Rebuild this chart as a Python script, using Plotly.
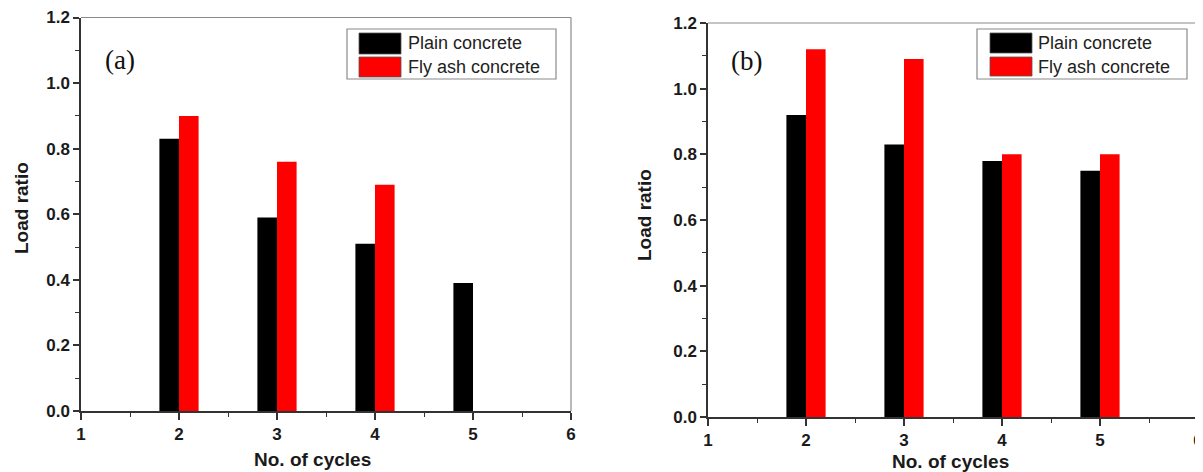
import plotly.graph_objects as go

# ---- data ----
cycles = [2, 3, 4, 5]
plain_a = [0.83, 0.59, 0.51, 0.39]
flyash_a_cycles = [2, 3, 4]
flyash_a = [0.90, 0.76, 0.69]

plain_b = [0.92, 0.83, 0.78, 0.75]
flyash_b = [1.12, 1.09, 0.80, 0.80]

series_names = ["Plain concrete", "Fly ash concrete"]
series_colors = ["#000000", "#ff0000"]
panel_labels = ["(a)", "(b)"]
x_ticks = [1, 2, 3, 4, 5, 6]
y_ticks = [0.0, 0.2, 0.4, 0.6, 0.8, 1.0, 1.2]

# page body has an 8px margin; lay the figure out in window pixels minus that offset
OFF = 8
W, H = 1203 - OFF, 472 - OFF
BAR_W = 0.2

fig = go.Figure()

# panel a
fig.add_trace(go.Bar(x=cycles, y=plain_a, width=BAR_W, offset=-BAR_W,
                     marker=dict(color=series_colors[0], line=dict(width=0)),
                     name=series_names[0], showlegend=False, xaxis="x", yaxis="y"))
fig.add_trace(go.Bar(x=flyash_a_cycles, y=flyash_a, width=BAR_W, offset=0,
                     marker=dict(color=series_colors[1], line=dict(width=0)),
                     name=series_names[1], showlegend=False, xaxis="x", yaxis="y"))
# panel b
fig.add_trace(go.Bar(x=cycles, y=plain_b, width=BAR_W, offset=-BAR_W,
                     marker=dict(color=series_colors[0], line=dict(width=0)),
                     name=series_names[0], showlegend=False, xaxis="x2", yaxis="y2"))
fig.add_trace(go.Bar(x=cycles, y=flyash_b, width=BAR_W, offset=0,
                     marker=dict(color=series_colors[1], line=dict(width=0)),
                     name=series_names[1], showlegend=False, xaxis="x2", yaxis="y2"))

tickfont = dict(family="Arial, 'Liberation Sans', sans-serif", size=17, color="#1a1a1a", weight="bold")
axcol = "#333333"

def xaxis(domain, anchor):
    return dict(domain=domain, anchor=anchor, range=[1, 6], tickvals=x_ticks,
                ticktext=[str(t) for t in x_ticks], automargin=False,
                showline=True, linecolor=axcol, linewidth=1.5, mirror=False,
                ticks="outside", ticklen=7, tickwidth=1.5, tickcolor=axcol,
                minor=dict(ticks="outside", ticklen=4, tickwidth=1.2, tickcolor=axcol, dtick=0.5, tick0=1),
                showgrid=False, zeroline=False, tickfont=tickfont, fixedrange=True)

def yaxis(domain, anchor):
    return dict(domain=domain, anchor=anchor, range=[0, 1.2], tickvals=y_ticks,
                ticktext=[f"{t:.1f}" for t in y_ticks], automargin=False,
                showline=True, linecolor=axcol, linewidth=1.5, mirror=False,
                ticks="outside", ticklen=6, tickwidth=1.5, tickcolor=axcol,
                minor=dict(ticks="outside", ticklen=4, tickwidth=1.2, tickcolor=axcol, dtick=0.1, tick0=0),
                showgrid=False, zeroline=False, tickfont=tickfont, fixedrange=True)

# geometry in window pixels (as measured on the reference)
axL = dict(x0=81, x1=571, ytop=17.5, ybot=411)
axR = dict(x0=708, x1=1198, ytop=23, ybot=417)

def px(x):
    return (x - OFF) / W

def py(y):
    return 1 - (y - OFF) / H

def xd(a):
    return [px(a["x0"]), px(a["x1"])]

def yd(a):
    return [py(a["ybot"]), py(a["ytop"])]

fig.update_layout(
    width=W, height=H,
    margin=dict(l=0, r=0, t=0, b=0, autoexpand=False),
    paper_bgcolor="white", plot_bgcolor="white",
    barmode="overlay",
    xaxis=xaxis(xd(axL), "y"),
    yaxis=yaxis(yd(axL), "x"),
    xaxis2=xaxis(xd(axR), "y2"),
    yaxis2=yaxis(yd(axR), "x2"),
    showlegend=False,
)

shapes = []
annotations = []

title_font = dict(family="Arial, 'Liberation Sans', sans-serif", size=19, color="#1a1a1a", weight="bold")
legend_font = dict(family="Arial, 'Liberation Sans', sans-serif", size=18, color="#222")
label_font = dict(family="'Times New Roman', 'Liberation Serif', serif", size=27, color="#111")

panels = [
    dict(ax=axL, label_xy=(120, 60), ytitle_xy=(21, 208), xtitle_xy=(312, 459),
         legend=dict(box=(347, 29, 556, 79), sw=(359, 401), rows=[(33, 54), (57, 77)], tx=406)),
    dict(ax=axR, label_xy=(746, 61), ytitle_xy=(645, 215), xtitle_xy=(950, 461),
         legend=dict(box=(977, 29, 1187, 79), sw=(990, 1032), rows=[(33, 53), (57, 76)], tx=1036)),
]

for i, p in enumerate(panels):
    a = p["ax"]
    # top and right frame lines (lighter gray)
    shapes.append(dict(type="line", xref="paper", yref="paper",
                       x0=px(a["x0"]), x1=px(a["x1"]), y0=py(a["ytop"]), y1=py(a["ytop"]),
                       line=dict(color="#8a8a8a", width=1.2), layer="above"))
    shapes.append(dict(type="line", xref="paper", yref="paper",
                       x0=px(a["x1"]), x1=px(a["x1"]), y0=py(a["ytop"]), y1=py(a["ybot"]),
                       line=dict(color="#8a8a8a", width=1.2), layer="above"))
    # legend box
    lg = p["legend"]
    bx0, by0, bx1, by1 = lg["box"]
    shapes.append(dict(type="rect", xref="paper", yref="paper",
                       x0=px(bx0), x1=px(bx1), y0=py(by1), y1=py(by0),
                       line=dict(color="#8a8a8a", width=1.2), fillcolor="white", layer="above"))
    for j, (r0, r1) in enumerate(lg["rows"]):
        shapes.append(dict(type="rect", xref="paper", yref="paper",
                           x0=px(lg["sw"][0]), x1=px(lg["sw"][1]), y0=py(r1), y1=py(r0),
                           line=dict(color="#555", width=0.8), fillcolor=series_colors[j], layer="above"))
        annotations.append(dict(xref="paper", yref="paper", x=px(lg["tx"]), y=py((r0 + r1) / 2),
                                text=series_names[j], showarrow=False, xanchor="left", yanchor="middle",
                                font=legend_font))
    # panel label
    annotations.append(dict(xref="paper", yref="paper", x=px(p["label_xy"][0]), y=py(p["label_xy"][1]),
                            text=panel_labels[i], showarrow=False, xanchor="center", yanchor="middle",
                            font=label_font))
    # axis titles
    annotations.append(dict(xref="paper", yref="paper", x=px(p["ytitle_xy"][0]), y=py(p["ytitle_xy"][1]),
                            text="Load ratio", showarrow=False, textangle=-90,
                            xanchor="center", yanchor="middle", font=title_font))
    annotations.append(dict(xref="paper", yref="paper", x=px(p["xtitle_xy"][0]), y=py(p["xtitle_xy"][1]),
                            text="No. of cycles", showarrow=False,
                            xanchor="center", yanchor="middle", font=title_font))

fig.update_layout(shapes=shapes, annotations=annotations)

fig.write_html("out.html", config={"displayModeBar": False})
